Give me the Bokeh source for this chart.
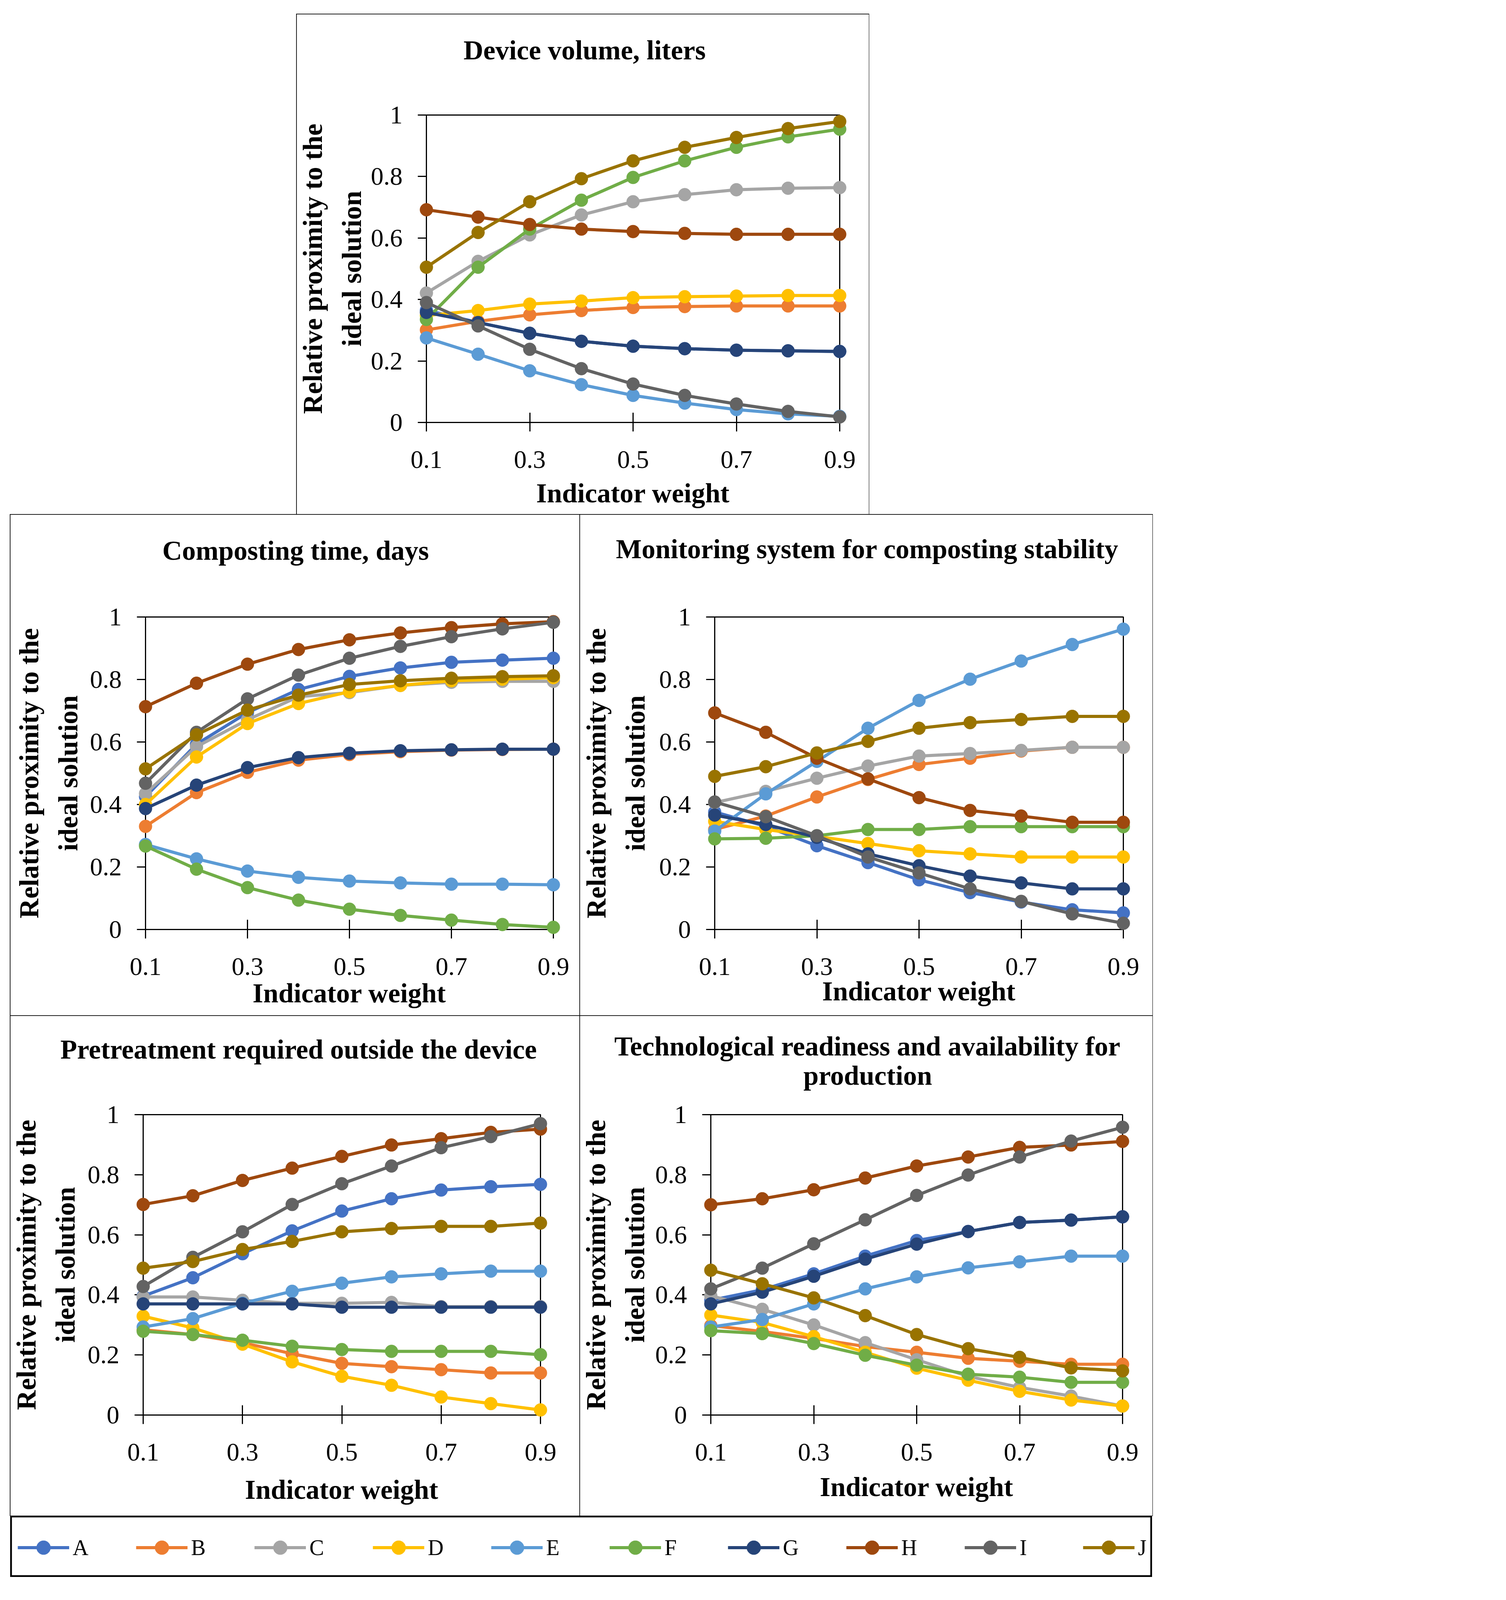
from bokeh.plotting import figure
from bokeh.models import Range1d, FixedTicker, Spacer, Legend, LegendItem, Title
from bokeh.layouts import row, column
from bokeh.embed import file_html
from bokeh.resources import INLINE

FONT = "Liberation Serif"
S = 0.775  # global scale so that the whole page fits the captured window


def z(v):
    return int(round(v * S))


def px(v):
    return "%dpx" % z(v)


weights = [0.1, 0.2, 0.3, 0.4, 0.5, 0.6, 0.7, 0.8, 0.9]
alternatives = ["A", "B", "C", "D", "E", "F", "G", "H", "I", "J"]
colors = ["#4472C4", "#ED7D31", "#A5A5A5", "#FFC000", "#5B9BD5",
          "#70AD47", "#264478", "#9E480E", "#636363", "#997300"]
x_ticks = [0.1, 0.3, 0.5, 0.7, 0.9]
x_tick_labels = ["0.1", "0.3", "0.5", "0.7", "0.9"]
y_ticks = [0, 0.2, 0.4, 0.6, 0.8, 1]
y_tick_labels = ["0", "0.2", "0.4", "0.6", "0.8", "1"]
x_title = "Indicator weight"
y_title = "Relative proximity to the\nideal solution"

# Device volume, liters
vol_A = [0.365, 0.325, 0.290, 0.264, 0.248, 0.240, 0.235, 0.233, 0.231]
vol_B = [0.301, 0.329, 0.350, 0.364, 0.374, 0.377, 0.379, 0.379, 0.379]
vol_C = [0.421, 0.524, 0.610, 0.675, 0.718, 0.741, 0.757, 0.762, 0.764]
vol_D = [0.348, 0.364, 0.385, 0.395, 0.406, 0.409, 0.411, 0.413, 0.413]
vol_E = [0.275, 0.222, 0.168, 0.123, 0.088, 0.063, 0.042, 0.028, 0.020]
vol_F = [0.335, 0.505, 0.629, 0.723, 0.797, 0.851, 0.895, 0.929, 0.954]
vol_G = [0.358, 0.325, 0.290, 0.264, 0.248, 0.240, 0.235, 0.233, 0.231]
vol_H = [0.692, 0.668, 0.644, 0.629, 0.621, 0.615, 0.612, 0.612, 0.612]
vol_I = [0.390, 0.314, 0.238, 0.175, 0.125, 0.088, 0.060, 0.036, 0.018]
vol_J = [0.505, 0.618, 0.718, 0.793, 0.851, 0.895, 0.927, 0.956, 0.979]

# Composting time, days
time_A = [0.425, 0.593, 0.694, 0.768, 0.810, 0.837, 0.855, 0.862, 0.868]
time_B = [0.330, 0.438, 0.503, 0.542, 0.560, 0.569, 0.574, 0.576, 0.577]
time_C = [0.435, 0.585, 0.671, 0.745, 0.758, 0.781, 0.791, 0.794, 0.794]
time_D = [0.400, 0.552, 0.659, 0.723, 0.761, 0.781, 0.796, 0.801, 0.806]
time_E = [0.272, 0.226, 0.187, 0.167, 0.155, 0.149, 0.145, 0.145, 0.143]
time_F = [0.267, 0.193, 0.134, 0.094, 0.065, 0.045, 0.030, 0.016, 0.007]
time_G = [0.387, 0.462, 0.518, 0.550, 0.564, 0.572, 0.575, 0.577, 0.577]
time_H = [0.713, 0.788, 0.849, 0.896, 0.927, 0.949, 0.966, 0.978, 0.985]
time_I = [0.468, 0.631, 0.738, 0.814, 0.868, 0.906, 0.937, 0.962, 0.983]
time_J = [0.514, 0.623, 0.702, 0.750, 0.784, 0.796, 0.804, 0.809, 0.812]

# Monitoring system for composting stability
mon_A = [0.376, 0.330, 0.268, 0.214, 0.159, 0.118, 0.088, 0.063, 0.053]
mon_B = [0.320, 0.363, 0.424, 0.480, 0.528, 0.548, 0.571, 0.583, 0.583]
mon_C = [0.406, 0.442, 0.484, 0.523, 0.555, 0.563, 0.573, 0.583, 0.583]
mon_D = [0.346, 0.320, 0.298, 0.275, 0.252, 0.242, 0.232, 0.232, 0.232]
mon_E = [0.315, 0.434, 0.538, 0.644, 0.733, 0.801, 0.859, 0.912, 0.961]
mon_F = [0.290, 0.292, 0.300, 0.320, 0.320, 0.329, 0.329, 0.329, 0.329]
mon_G = [0.366, 0.336, 0.295, 0.242, 0.204, 0.171, 0.149, 0.130, 0.130]
mon_H = [0.693, 0.631, 0.548, 0.482, 0.422, 0.381, 0.363, 0.343, 0.343]
mon_I = [0.408, 0.361, 0.300, 0.232, 0.181, 0.130, 0.090, 0.050, 0.020]
mon_J = [0.490, 0.521, 0.565, 0.602, 0.644, 0.662, 0.672, 0.682, 0.682]

# Pretreatment required outside the device
pre_A = [0.396, 0.457, 0.537, 0.613, 0.679, 0.720, 0.749, 0.760, 0.768]
pre_B = [0.284, 0.268, 0.241, 0.204, 0.172, 0.161, 0.151, 0.140, 0.140]
pre_C = [0.393, 0.393, 0.382, 0.372, 0.372, 0.375, 0.361, 0.361, 0.361]
pre_D = [0.329, 0.290, 0.236, 0.177, 0.129, 0.099, 0.060, 0.038, 0.017]
pre_E = [0.293, 0.321, 0.372, 0.412, 0.439, 0.460, 0.470, 0.479, 0.479]
pre_F = [0.279, 0.268, 0.249, 0.229, 0.218, 0.212, 0.212, 0.212, 0.201]
pre_G = [0.370, 0.370, 0.370, 0.370, 0.359, 0.359, 0.359, 0.359, 0.359]
pre_H = [0.701, 0.730, 0.781, 0.822, 0.861, 0.899, 0.920, 0.941, 0.952]
pre_I = [0.428, 0.525, 0.610, 0.701, 0.770, 0.829, 0.890, 0.927, 0.970]
pre_J = [0.489, 0.511, 0.551, 0.578, 0.610, 0.621, 0.628, 0.628, 0.639]

# Technological readiness and availability for production
tech_A = [0.382, 0.417, 0.470, 0.529, 0.581, 0.611, 0.641, 0.649, 0.660]
tech_B = [0.298, 0.278, 0.255, 0.228, 0.209, 0.189, 0.179, 0.169, 0.169]
tech_C = [0.397, 0.352, 0.300, 0.241, 0.184, 0.129, 0.092, 0.063, 0.030]
tech_D = [0.333, 0.308, 0.261, 0.209, 0.156, 0.116, 0.079, 0.050, 0.030]
tech_E = [0.293, 0.318, 0.370, 0.420, 0.460, 0.490, 0.510, 0.529, 0.529]
tech_F = [0.281, 0.271, 0.238, 0.199, 0.166, 0.136, 0.126, 0.109, 0.109]
tech_G = [0.370, 0.409, 0.462, 0.519, 0.569, 0.611, 0.641, 0.649, 0.660]
tech_H = [0.700, 0.720, 0.750, 0.789, 0.829, 0.859, 0.891, 0.899, 0.911]
tech_I = [0.420, 0.489, 0.570, 0.650, 0.731, 0.799, 0.859, 0.912, 0.958]
tech_J = [0.482, 0.437, 0.390, 0.331, 0.268, 0.221, 0.192, 0.157, 0.147]

titles = [["Device volume, liters"],
          ["Composting time, days"],
          ["Monitoring system for composting stability"],
          ["Pretreatment required outside the device"],
          ["Technological readiness and availability for", "production"]]

PANEL_STYLE = {"outline": "3px solid black", "outline-offset": "-2px"}

# advance widths (per 1000 em) of the bold serif face, used to centre titles on the panel
BOLD_W = {" ": 250, ",": 250, "C": 722, "D": 722, "M": 944, "P": 611, "T": 667,
          "a": 500, "b": 556, "c": 444, "d": 556, "e": 444, "f": 333, "g": 500, "h": 556,
          "i": 278, "l": 278, "m": 833, "n": 556, "o": 500, "p": 556, "q": 556, "r": 444,
          "s": 389, "t": 333, "u": 556, "v": 500, "y": 500}

TITLE_F = 90
TICK_F = 84
ASC, DESC = 0.891, 0.216


def text_width(s, size):
    return sum(BOLD_W.get(ch, 500) for ch in s) * size / 1000.0


def add_title(p, lines, baselines, W, L, T):
    h = (ASC + DESC) * TITLE_F
    y0 = 0.0
    specs = []
    for s, b in zip(lines, baselines):
        st = 2 * (b - y0 - 2 - h + DESC * TITLE_F)
        specs.append((s, st))
        y0 += 2 + h + st
    s_spacer = T - y0 - 2 - (ASC + DESC) * 1
    # spacer between the title and the plot frame (added first: closest to the frame)
    p.add_layout(Title(text="\u00a0", text_font_size="1px", standoff=z(s_spacer),
                       align="left", text_color="white"), "above")
    for s, st in reversed(specs):
        offset = W / 2.0 - L - text_width(s, TITLE_F) / 2.0
        p.add_layout(Title(text=s, align="left", offset=z(offset), standoff=z(st),
                           text_font=FONT, text_font_size=px(TITLE_F), text_font_style="bold",
                           text_color="black"), "above")


def make_panel(title_lines, baselines, series, W, H, L, R, T, B, xlab_standoff, ylab_standoff):
    p = figure(width=z(W), height=z(H), x_range=Range1d(0.1, 0.9), y_range=Range1d(0, 1),
               output_backend="svg", toolbar_location=None, title=None,
               min_border_left=z(L), min_border_right=z(R),
               min_border_top=z(T), min_border_bottom=z(B))
    p.styles = PANEL_STYLE
    p.xgrid.visible = False
    p.ygrid.visible = False
    p.outline_line_color = "black"
    p.outline_line_width = 3
    p.outline_line_alpha = 1
    p.background_fill_color = "white"
    p.border_fill_color = "white"

    for name, color, vals in zip(alternatives, colors, series):
        p.line(weights, vals, line_color=color, line_width=z(10), level="overlay")
        p.scatter(weights, vals, size=z(42), marker="circle", fill_color=color,
                  line_color=color, level="overlay")

    xa = p.xaxis[0]
    xa.ticker = FixedTicker(ticks=x_ticks)
    xa.major_label_overrides = {t: s for t, s in zip(x_ticks, x_tick_labels)}
    xa.minor_tick_line_color = None
    xa.major_tick_in = z(32)
    xa.major_tick_out = z(30)
    xa.major_tick_line_width = 3
    xa.axis_line_width = 3
    xa.major_label_standoff = z(64)
    xa.major_label_text_font = FONT
    xa.major_label_text_font_size = px(TICK_F)
    xa.major_label_text_color = "black"
    xa.axis_label = x_title
    xa.axis_label_text_font = FONT
    xa.axis_label_text_font_size = px(90)
    xa.axis_label_text_font_style = "bold"
    xa.axis_label_text_color = "black"
    xa.axis_label_standoff = z(xlab_standoff)

    ya = p.yaxis[0]
    ya.ticker = FixedTicker(ticks=y_ticks)
    ya.major_label_overrides = {t: s for t, s in zip(y_ticks, y_tick_labels)}
    ya.minor_tick_line_color = None
    ya.major_tick_in = 0
    ya.major_tick_out = z(28)
    ya.major_tick_line_width = 3
    ya.axis_line_width = 3
    ya.major_label_standoff = z(50)
    ya.major_label_text_font = FONT
    ya.major_label_text_font_size = px(TICK_F)
    ya.major_label_text_color = "black"
    ya.axis_label = y_title
    ya.axis_label_text_font = FONT
    ya.axis_label_text_font_size = px(90)
    ya.axis_label_text_font_style = "bold"
    ya.axis_label_text_color = "black"
    ya.axis_label_text_line_height = 1.3
    ya.axis_label_standoff = z(ylab_standoff)

    add_title(p, title_lines, baselines, W, L, T)
    return p


p_top = make_panel(titles[0], [148], [vol_A, vol_B, vol_C, vol_D, vol_E, vol_F, vol_G, vol_H, vol_I, vol_J],
                   1890, 1653, 424, 97, 332, 304, 30, 9)
p_ml = make_panel(titles[1], [141], [time_A, time_B, time_C, time_D, time_E, time_F, time_G, time_H, time_I, time_J],
                  1881, 1655, 446, 88, 329, 285, 6, 18)
p_mr = make_panel(titles[2], [143], [mon_A, mon_B, mon_C, mon_D, mon_E, mon_F, mon_G, mon_H, mon_I, mon_J],
                  1891, 1655, 445, 97, 337, 270, 0, 24)
p_bl = make_panel(titles[3], [141], [pre_A, pre_B, pre_C, pre_D, pre_E, pre_F, pre_G, pre_H, pre_I, pre_J],
                  1881, 1651, 427, 130, 325, 333, 43, 19)
p_br = make_panel(titles[4], [97, 193], [tech_A, tech_B, tech_C, tech_D, tech_E, tech_F, tech_G, tech_H, tech_I, tech_J],
                  1891, 1651, 427, 99, 292, 295, 33, 13)

# Legend panel: its renderers use the first panel's series, kept outside the visible range
lg = figure(width=z(3772), height=z(202), x_range=Range1d(10, 11), y_range=Range1d(10, 11),
            output_backend="svg", toolbar_location=None, min_border=0, title=None,
            x_axis_location=None, y_axis_location=None)
lg.xgrid.visible = False
lg.ygrid.visible = False
lg.outline_line_color = "black"
lg.outline_line_width = 8
lg.background_fill_color = "white"
lg.border_fill_color = "white"
items = []
for name, color, vals in zip(alternatives, colors,
                             [vol_A, vol_B, vol_C, vol_D, vol_E, vol_F, vol_G, vol_H, vol_I, vol_J]):
    r1 = lg.line(weights, vals, line_color=color, line_width=z(10))
    r2 = lg.scatter(weights, vals, size=z(42), marker="circle", fill_color=color, line_color=color)
    items.append(LegendItem(label=name, renderers=[r1, r2]))
legend = Legend(items=items, orientation="horizontal", location=(z(24), z(40)),
                glyph_width=z(170), glyph_height=z(115), label_standoff=z(12),
                label_width=z(60), spacing=z(150), padding=0, margin=0,
                border_line_alpha=0, background_fill_alpha=0, label_text_font=FONT,
                label_text_font_size=px(72), label_text_color="black")
lg.add_layout(legend, "center")

page = column(
    Spacer(width=10, height=z(47)),
    row(Spacer(width=z(979), height=z(1653)), p_top),
    row(Spacer(width=z(34), height=z(1655)), p_ml, p_mr),
    row(Spacer(width=z(34), height=z(1651)), p_bl, p_br),
    row(Spacer(width=z(34), height=z(202)), lg),
)

open("out.html", "w").write(file_html(page, INLINE))
